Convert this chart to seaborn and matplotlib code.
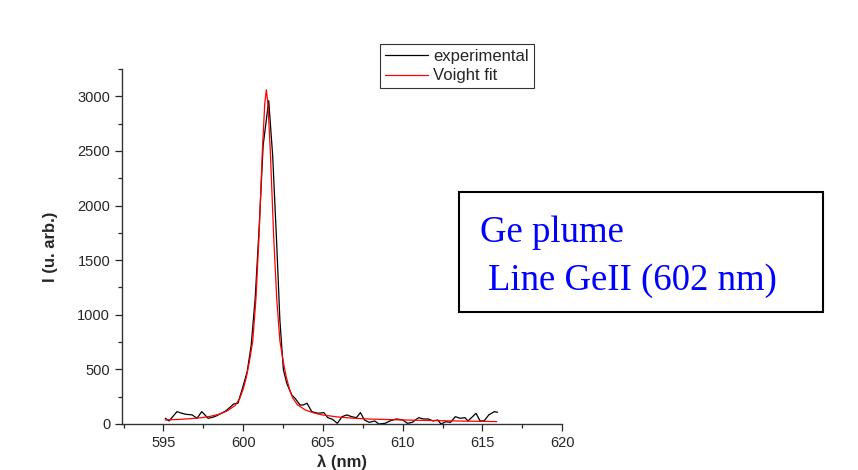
import pandas as pd
import matplotlib.pyplot as plt
import seaborn as sns
from matplotlib.patches import Rectangle
from matplotlib.ticker import MultipleLocator

# experimental spectrum
exp_wl = [595.12, 595.35, 595.85, 596.15, 596.4, 596.8, 597.1, 597.4, 597.8, 598.1,
          598.35, 598.65, 598.9, 599.15, 599.4, 599.67, 599.96, 600.25, 600.5, 600.75,
          601.0, 601.25, 601.6, 601.85, 602.1, 602.3, 602.52, 602.73, 603.04, 603.25,
          603.56, 603.77, 604.0, 604.3, 604.7, 605.06, 605.3, 605.6, 605.9, 606.2,
          606.5, 606.8, 607.1, 607.35, 607.6, 607.9, 608.25, 608.5, 608.9, 609.2,
          609.6, 610.0, 610.3, 610.6, 611.0, 611.3, 611.6, 611.9, 612.2, 612.4,
          612.7, 613.0, 613.3, 613.6, 613.9, 614.1, 614.6, 614.85, 615.1, 615.4,
          615.75, 615.95]
exp_int = [52, 28, 113, 98, 89, 83, 52, 113, 52, 62,
           76, 100, 119, 150, 183, 190, 330, 480, 720, 1150,
           1800, 2550, 2960, 2450, 1650, 950, 495, 373, 266, 236,
           174, 174, 190, 113, 98, 104, 58, 43, 6, 67,
           83, 67, 58, 104, 37, 15, 28, 0, 6, 28,
           46, 37, 6, 15, 58, 46, 46, 28, 37, 0,
           21, 15, 67, 52, 58, 28, 98, 28, 28, 83,
           113, 107]

# Voigt fit curve
fit_wl = [595.1, 596.0, 597.0, 597.5, 598.0, 598.5, 599.0, 599.5, 599.8, 600.0,
          600.2, 600.4, 600.6, 600.8, 601.0, 601.2, 601.35, 601.45, 601.55, 601.7,
          601.9, 602.1, 602.3, 602.5, 602.7, 602.9, 603.1, 603.4, 603.9, 604.5,
          605.0, 606.0, 607.0, 608.0, 610.0, 612.0, 614.0, 615.9]
fit_int = [37, 42, 52, 60, 72, 90, 120, 170, 240, 320,
           430, 580, 760, 1150, 1750, 2500, 2930, 3060, 2930, 2500,
           1750, 1150, 760, 580, 430, 320, 240, 175, 128, 98,
           82, 63, 52, 45, 37, 31, 26, 22]

legend_labels = ["experimental", "Voight fit"]

df_exp = pd.DataFrame({"wl": exp_wl, "I": exp_int})
df_fit = pd.DataFrame({"wl": fit_wl, "I": fit_int})

sns.set_style("ticks")
plt.rcParams["font.family"] = ["Liberation Sans", "DejaVu Sans"]

fig = plt.figure(figsize=(8.58, 4.70), dpi=100)
ax = fig.add_axes([0.1422, 0.0979, 0.513, 0.7553])

sns.lineplot(data=df_exp, x="wl", y="I", ax=ax, color="black", lw=0.9,
             label=legend_labels[0], sort=False)
sns.lineplot(data=df_fit, x="wl", y="I", ax=ax, color="red", lw=0.9,
             label=legend_labels[1], sort=False)

ax.set_xlim(592.4, 620)
ax.set_ylim(0, 3250)
ax.xaxis.set_major_locator(MultipleLocator(5))
ax.xaxis.set_minor_locator(MultipleLocator(2.5))
ax.yaxis.set_major_locator(MultipleLocator(500))
ax.yaxis.set_minor_locator(MultipleLocator(250))
ax.tick_params(which="major", length=5, width=0.9, labelsize=10.5, direction="out")
ax.tick_params(which="minor", length=3, width=0.9, direction="out")
for s in ["top", "right"]:
    ax.spines[s].set_visible(False)
for s in ["left", "bottom"]:
    ax.spines[s].set_linewidth(1.0)
    ax.spines[s].set_color("#333333")

ax.set_xlabel("λ (nm)", fontsize=12, fontweight="bold", labelpad=3)
ax.set_ylabel("I (u. arb.)", fontsize=12, fontweight="bold", labelpad=14)

ax.get_legend().remove()
leg = fig.legend(loc="upper left", bbox_to_anchor=(0.443, 0.906), fontsize=12,
                 frameon=True, fancybox=False, handlelength=2.6, borderpad=0.3,
                 labelspacing=0.25, handletextpad=0.3, borderaxespad=0)
leg.get_frame().set_edgecolor("black")
leg.get_frame().set_linewidth(0.8)

# text box with line identification
fig.patches.append(Rectangle((459 / 858, 1 - 312 / 470), 364 / 858, 120 / 470,
                             transform=fig.transFigure, fill=False,
                             edgecolor="black", lw=1.5))
fig.text(480 / 858, 1 - 242 / 470, "Ge plume", color="blue", fontsize=26.5,
         family=["Liberation Serif", "DejaVu Serif"], va="baseline")
fig.text(488 / 858, 1 - 290 / 470, "Line GeII (602 nm)", color="blue", fontsize=26.5,
         family=["Liberation Serif", "DejaVu Serif"], va="baseline")

fig.savefig("out.png", dpi=100)
